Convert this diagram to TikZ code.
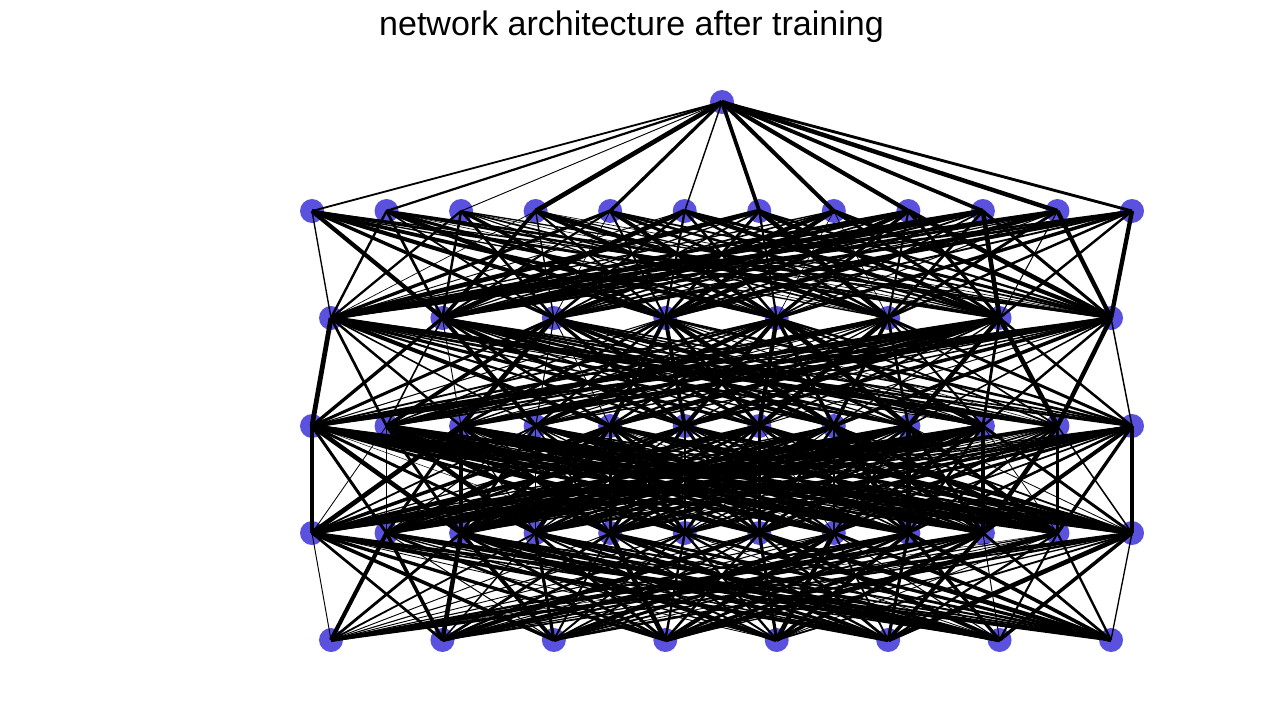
\documentclass[tikz,border=0pt]{standalone}
\usepackage{fontspec}
\setmainfont{Liberation Sans}
\definecolor{neuronblue}{RGB}{90,82,222}
\tikzset{neuron/.style={circle,fill=neuronblue,inner sep=0pt,minimum size=18pt},
  title/.style={font=\fontsize{25.5}{30}\selectfont}}
\begin{document}
\begin{tikzpicture}[x=0.75pt,y=-0.75pt]
\useasboundingbox (0,0) rectangle (1278,728);

\node[title] (heading) at (631.5,27) {network architecture after training};

% layers
\node[neuron] (a1) at (722,102) {};
\foreach \i in {1,...,12} {
  \node[neuron] (b\i) at ({312+74.545*(\i-1)},211) {};
  \node[neuron] (d\i) at ({312+74.545*(\i-1)},426) {};
  \node[neuron] (e\i) at ({312+74.545*(\i-1)},533) {};
}
\foreach \i in {1,...,8} {
  \node[neuron] (c\i) at ({331+111.43*(\i-1)},318) {};
  \node[neuron] (f\i) at ({331+111.43*(\i-1)},640) {};
}

% weights
\pgfmathsetseed{42}
\foreach \j in {1,...,12} {
  \pgfmathsetmacro\w{0.3+3.3*rnd^0.8}
  \draw[line width=\w pt] (a1.center) -- (b\j.center);
}
\foreach \i in {1,...,12} \foreach \j in {1,...,8} {
  \pgfmathsetmacro\w{0.3+3.3*rnd^0.8}
  \draw[line width=\w pt] (b\i.center) -- (c\j.center);
}
\foreach \i in {1,...,8} \foreach \j in {1,...,12} {
  \pgfmathsetmacro\w{0.3+3.3*rnd^0.8}
  \draw[line width=\w pt] (c\i.center) -- (d\j.center);
}
\foreach \i in {1,...,12} \foreach \j in {1,...,12} {
  \pgfmathsetmacro\w{0.3+3.3*rnd^0.8}
  \draw[line width=\w pt] (d\i.center) -- (e\j.center);
}
\foreach \i in {1,...,12} \foreach \j in {1,...,8} {
  \pgfmathsetmacro\w{0.3+3.3*rnd^0.8}
  \draw[line width=\w pt] (e\i.center) -- (f\j.center);
}
\end{tikzpicture}
\end{document}
